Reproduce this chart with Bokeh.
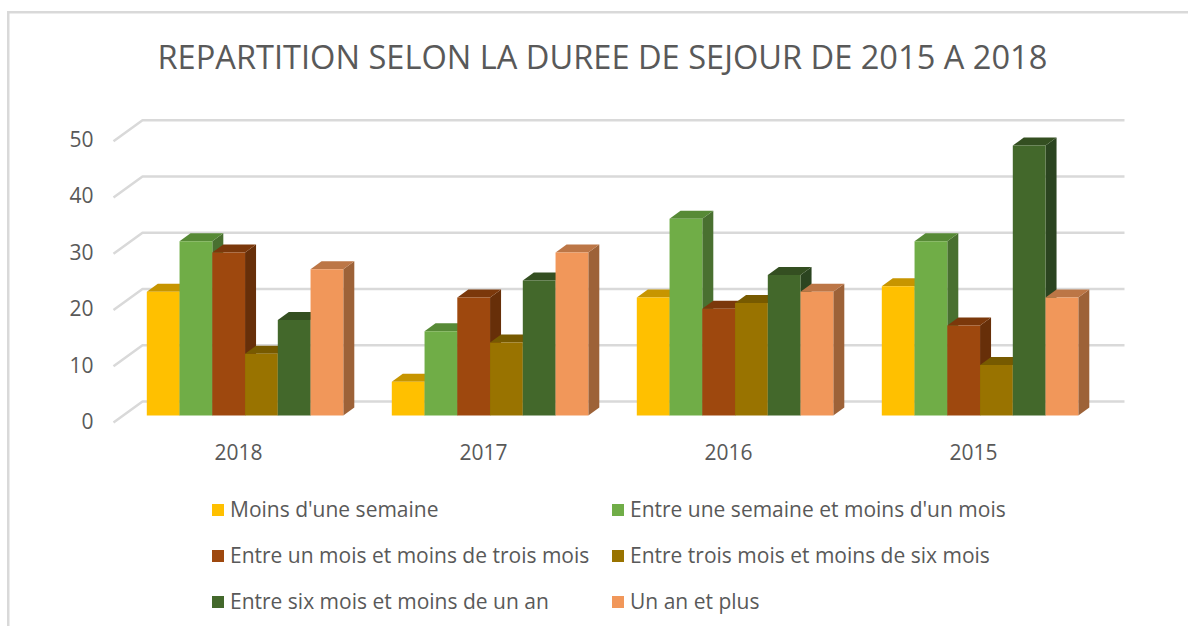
from bokeh.plotting import figure
from bokeh.models import Range1d, LinearAxis, FixedTicker, Legend, LegendItem
from bokeh.embed import file_html
from bokeh.resources import INLINE

# ---- data ----
years = ["2018", "2017", "2016", "2015"]
series_names = ["Moins d'une semaine", "Entre une semaine et moins d'un mois",
                "Entre un mois et moins de trois mois", "Entre trois mois et moins de six mois",
                "Entre six mois et moins de un an", "Un an et plus"]
moins_semaine = [22, 6, 21, 23]
semaine_mois = [31, 15, 35, 31]
mois_trois = [29, 21, 19, 16]
trois_six = [11, 13, 20, 9]
six_an = [17, 24, 25, 48]
an_plus = [26, 29, 22, 21]
y_ticks = [0, 10, 20, 30, 40, 50]
title_text = "REPARTITION SELON LA DUREE DE SEJOUR DE 2015 A 2018"

all_series = [moins_semaine, semaine_mois, mois_trois, trois_six, six_an, an_plus]
front_colors = ["#FFC000", "#70AD47", "#9E480E", "#997300", "#43682B", "#F1975A"]
top_colors = ["#C79500", "#578A36", "#7B380B", "#775A00", "#344F21", "#BC7646"]
side_colors = ["#A67C00", "#497030", "#672F09", "#634B00", "#2B4420", "#9D6238"]

TEXT = "#595959"
GRID = "#D9D9D9"
FONT = "Open Sans"

# ---- geometry (page pixels → data scales) ----
W, H = 1188, 626
F_L, F_R, F_T, F_B = 100, 1188, 105, 626     # frame box on page
GROUP_PX = 245.0
BAR_PX = 32.75
X0 = 146.3                                    # first bar left
BASE = 415.0                                  # bars' baseline
PX_Y = 5.625                                  # pixels per value unit

def ux(px):
    return px / GROUP_PX
def uy(px):
    return px / PX_Y

line = f"linear-gradient({GRID},{GRID})"
p = figure(width=W, height=H, output_backend="svg", toolbar_location=None,
           x_range=Range1d(ux(F_L - X0), ux(F_R - X0)),
           y_range=Range1d(uy(BASE - F_B), uy(BASE - F_T)),
           x_axis_type=None, y_axis_type=None,
           min_border_left=F_L, min_border_right=0, min_border_top=F_T, min_border_bottom=0,
           outline_line_color=None, background_fill_color=None, border_fill_color=None,
           styles={"background": f"{line} 7px 11px / 1181px 2.5px no-repeat, "
                                 f"{line} 7px 11px / 2.5px 615px no-repeat, white"})

p.title.text = title_text
p.title.align = "left"
p.title.offset = 57
p.title.text_font = FONT
p.title.text_font_size = "32.6px"
p.title.text_font_style = "normal"
p.title.text_color = TEXT
p.title.standoff = 54

p.xgrid.visible = False
p.ygrid.visible = False

p.extra_y_ranges = {"lab": Range1d((420.5 - F_B) / 5.64, (420.5 - F_T) / 5.64)}
yaxis = LinearAxis(y_range_name="lab", ticker=FixedTicker(ticks=y_ticks),
                   axis_line_color=None, major_tick_line_color=None, minor_tick_line_color=None,
                   major_label_text_font=FONT, major_label_text_font_size="21px",
                   major_label_text_color=TEXT, major_label_standoff=1)
p.add_layout(yaxis, "left")

p.extra_x_ranges = {"lab": Range1d((F_L - 238) / GROUP_PX, (F_R - 238) / GROUP_PX)}
xaxis = LinearAxis(x_range_name="lab", ticker=FixedTicker(ticks=list(range(len(years)))),
                   major_label_overrides={i: y for i, y in enumerate(years)},
                   axis_line_color=None, major_tick_line_color=None, minor_tick_line_color=None,
                   major_label_text_font=FONT, major_label_text_font_size="21px",
                   major_label_text_color=TEXT, major_label_standoff=0,
                   fixed_location=uy(BASE - 465))
p.add_layout(xaxis, "above")

WALL_DX, WALL_DY = ux(29), uy(21)
FL = ux(113 - X0)
GR = ux(1124 - X0)
FRONT_DROP = uy(7)
p.multi_line(xs=[[FL, FL + WALL_DX, GR] for _ in y_ticks],
             ys=[[t - FRONT_DROP, t - FRONT_DROP + WALL_DY, t - FRONT_DROP + WALL_DY] for t in y_ticks],
             line_color=GRID, line_width=2.5)

DX, DY = ux(11), uy(8)
BW = ux(BAR_PX)
items = []
for j, (name, vals) in enumerate(zip(series_names, all_series)):
    lefts = [i + j * BW for i in range(len(vals))]
    rights = [l + BW for l in lefts]
    p.patches(xs=[[r, r + DX, r + DX, r] for r in rights],
              ys=[[0, DY, v + DY, v] for v in vals],
              fill_color=side_colors[j], line_color=None)
    p.patches(xs=[[l, r, r + DX, l + DX] for l, r in zip(lefts, rights)],
              ys=[[v, v, v + DY, v + DY] for v in vals],
              fill_color=top_colors[j], line_color=None)
    front = p.quad(left=lefts, right=rights, bottom=[0] * len(vals), top=vals,
                   fill_color=front_colors[j], line_color=None)
    items.append(LegendItem(label=name, renderers=[front]))

legend_style = dict(background_fill_alpha=0, border_line_color=None,
                    label_text_font=FONT, label_text_font_size="21px", label_text_color=TEXT,
                    glyph_width=15, glyph_height=15, label_standoff=5,
                    spacing=18, margin=0, padding=0)
p.add_layout(Legend(items=items[0::2], location=(210 - F_L, 11), **legend_style), "center")
p.add_layout(Legend(items=items[1::2], location=(610 - F_L, 11), **legend_style), "center")

open("out.html", "w").write(file_html(p, INLINE))
